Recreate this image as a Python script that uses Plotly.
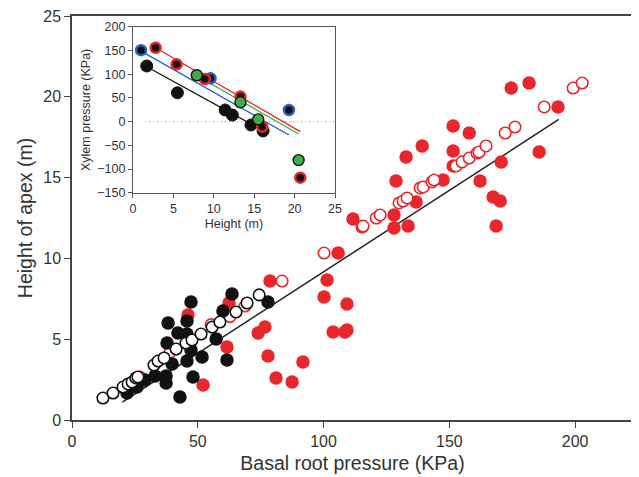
import plotly.graph_objects as go

# main panel: basal root pressure (KPa) vs height of apex (m)
blk_fill_x = [21.9, 25.8, 29.0, 33.0, 37.4, 37.4, 42.9, 48.1, 39.8, 45.7, 51.7, 61.6, 47.3,
              37.8, 42.1, 45.7, 57.3, 38.2, 45.7, 47.3, 60.0, 63.6, 77.9, 46.5]
blk_fill_y = [1.67, 2.04, 2.48, 2.72, 2.72, 2.29, 1.42, 2.66, 3.47, 3.65, 3.90, 3.71, 4.33,
              4.76, 5.38, 5.32, 5.01, 6.00, 6.13, 7.30, 6.75, 7.80, 7.30, 4.89]

blk_open_x = [12.3, 16.3, 20.3, 22.3, 23.9, 25.4, 26.2, 32.6, 34.2, 36.6, 41.4, 45.3, 47.7,
              51.3, 55.7, 58.8, 65.2, 69.6, 74.4]
blk_open_y = [1.36, 1.67, 2.04, 2.23, 2.35, 2.60, 2.66, 3.40, 3.65, 3.84, 4.39, 4.76, 4.95,
              5.32, 5.75, 6.06, 6.68, 7.24, 7.74]

red_fill_x = [52.1, 46.1, 62.4, 61.6, 74.0, 76.7, 77.9, 78.7, 81.1, 87.5, 91.8, 100.2, 101.4,
              105.8, 103.8, 108.5, 109.3, 109.3, 111.7, 128.0, 128.0, 133.6, 136.8, 128.8,
              132.8, 139.2, 147.5, 151.5, 157.9, 151.5, 151.5, 162.2, 167.4, 170.2, 168.6,
              170.6, 174.6, 181.7, 193.2, 185.7]
red_fill_y = [2.17, 6.50, 7.24, 4.52, 5.38, 5.75, 3.96, 8.60, 2.60, 2.35, 3.59, 7.61, 8.66,
              10.33, 5.45, 5.45, 5.57, 7.18, 12.44, 12.69, 11.88, 12.0, 13.49, 14.79,
              16.27, 16.96, 14.85, 18.19, 17.76, 16.65, 15.72, 14.79, 13.80, 13.55, 12.0,
              15.97, 20.54, 20.85, 19.37, 16.58]

red_open_x = [27.0, 39.0, 55.3, 62.8, 68.8, 83.5, 100.2, 115.3, 115.7, 120.9, 122.5, 130.0,
              131.6, 133.2, 138.4, 139.6, 143.1, 143.9, 152.7, 155.1, 157.9, 161.0, 161.8,
              164.6, 172.2, 176.1, 187.7, 199.2, 202.8]
red_open_y = [2.66, 4.20, 5.90, 6.40, 7.05, 8.60, 10.33, 11.94, 12.0, 12.5, 12.69, 13.43,
              13.55, 13.74, 14.36, 14.42, 14.73, 14.85, 15.72, 15.97, 16.21, 16.52, 16.58,
              16.96, 17.76, 18.13, 19.37, 20.54, 20.85]

fit_x = [20.0, 193.5]
fit_y = [1.1, 18.6]

# inset: height (m) vs xylem pressure (KPa)
ins_blue_x = [1.0, 9.6, 19.3]
ins_blue_y = [151, 91.5, 24.7]
ins_red_x = [2.8, 5.4, 8.9, 13.3, 16.0, 20.7]
ins_red_y = [156, 121, 90, 53, -10.5, -118]
ins_green_x = [7.9, 13.3, 15.5, 20.5]
ins_green_y = [98, 41, 5, -81]
ins_blk_x = [1.7, 5.5, 11.4, 12.3, 14.6, 16.1]
ins_blk_y = [117.5, 61, 24.7, 14, -7, -19.6]

line_red_x, line_red_y = [2.8, 20.7], [156, -21]
line_green_x, line_green_y = [7.9, 20.5], [97, -26]
line_blue_x, line_blue_y = [1.0, 19.3], [149, -28]
line_blk_x, line_blk_y = [1.7, 16.0], [116, -17.7]

RED = "#e8262c"
BLK = "#111111"
BLUE = "#2a5fc4"
GREEN = "#3fae49"

fig = go.Figure()

fig.add_trace(go.Scatter(x=fit_x, y=fit_y, mode="lines", line=dict(color="#222", width=1.5)))
fig.add_trace(go.Scatter(x=red_fill_x, y=red_fill_y, mode="markers",
                         marker=dict(size=13.5, color=RED, line=dict(width=0))))
fig.add_trace(go.Scatter(x=red_open_x, y=red_open_y, mode="markers",
                         marker=dict(size=11.5, color="white", line=dict(color=RED, width=1.6))))
fig.add_trace(go.Scatter(x=blk_fill_x, y=blk_fill_y, mode="markers",
                         marker=dict(size=13.5, color=BLK, line=dict(width=0))))
fig.add_trace(go.Scatter(x=blk_open_x, y=blk_open_y, mode="markers",
                         marker=dict(size=11.5, color="white", line=dict(color=BLK, width=1.6))))

# inset
fig.add_trace(go.Scatter(x=[1.5, 25], y=[0, 0], mode="lines", xaxis="x2", yaxis="y2",
                         line=dict(color="#999", width=1.3, dash="1px,3px")))
for lx, ly, c in [(line_blk_x, line_blk_y, BLK), (line_blue_x, line_blue_y, BLUE),
                  (line_green_x, line_green_y, GREEN), (line_red_x, line_red_y, RED)]:
    fig.add_trace(go.Scatter(x=lx, y=ly, mode="lines", xaxis="x2", yaxis="y2",
                             line=dict(color=c, width=1.3)))
fig.add_trace(go.Scatter(x=ins_blk_x, y=ins_blk_y, mode="markers", xaxis="x2", yaxis="y2",
                         marker=dict(size=12, color=BLK, line=dict(color=BLK, width=1))))
fig.add_trace(go.Scatter(x=ins_blue_x, y=ins_blue_y, mode="markers", xaxis="x2", yaxis="y2",
                         marker=dict(size=10, color=BLK, line=dict(color=BLUE, width=2.5))))
fig.add_trace(go.Scatter(x=ins_red_x, y=ins_red_y, mode="markers", xaxis="x2", yaxis="y2",
                         marker=dict(size=10, color=BLK, line=dict(color=RED, width=2.5))))
fig.add_trace(go.Scatter(x=ins_green_x, y=ins_green_y, mode="markers", xaxis="x2", yaxis="y2",
                         marker=dict(size=11, color=GREEN, line=dict(color=BLK, width=1.4))))

axis_font = dict(family="Liberation Sans, Arial, sans-serif", color="#333")

# page body has an 8px margin, so the figure is a bit smaller than the window
fig.update_layout(
    width=631, height=469,
    margin=dict(l=64, r=6, t=8, b=57),
    paper_bgcolor="white", plot_bgcolor="white",
    showlegend=False,
    font=axis_font,
    xaxis=dict(range=[0, 223], tickvals=[0, 50, 100, 150, 200], ticks="outside", ticklen=6,
               tickcolor="#444", showline=True, linecolor="#444", linewidth=1.5, mirror=True,
               showgrid=False, zeroline=False, tickfont=dict(size=16), automargin=False,
               ticklabeloverflow="allow",
               title=dict(text="Basal root pressure (KPa)", font=dict(size=19.5), standoff=7)),
    yaxis=dict(range=[0, 25], tickvals=[0, 5, 10, 15, 20, 25], ticks="outside", ticklen=6,
               tickcolor="#444", showline=True, linecolor="#444", linewidth=1.5, mirror=True,
               showgrid=False, zeroline=False, tickfont=dict(size=16), automargin=False,
               ticklabeloverflow="allow",
               title=dict(text="Height of apex (m)", font=dict(size=19.5), standoff=5)),
    xaxis2=dict(domain=[0.1087, 0.4688], anchor="y2", range=[0, 25],
                tickvals=[0, 5, 10, 15, 20, 25], ticks="outside", ticklen=4, tickcolor="#555",
                showline=True, linecolor="#555", linewidth=1.2, mirror=True, showgrid=False,
                zeroline=False, tickfont=dict(size=12.5), automargin=False,
                title=dict(text="Height (m)", font=dict(size=12.5), standoff=4)),
    yaxis2=dict(domain=[0.5624, 0.973], anchor="x2", range=[-150, 200],
                tickvals=[-150, -100, -50, 0, 50, 100, 150, 200], ticks="outside", ticklen=4,
                tickcolor="#555", showline=True, linecolor="#555", linewidth=1.2, mirror=True,
                showgrid=False, zeroline=False, tickfont=dict(size=12.5), automargin=False,
                title=dict(text="Xylem pressure (KPa)", font=dict(size=12.5), standoff=3)),
)

fig.write_html("out.html")
